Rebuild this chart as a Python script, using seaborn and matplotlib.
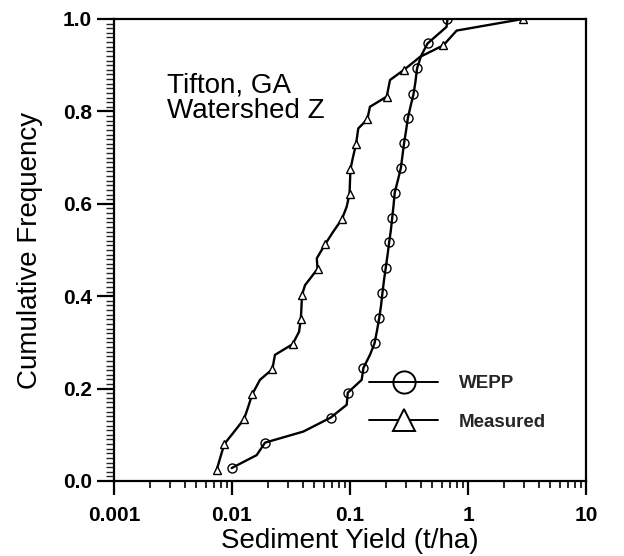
import matplotlib
matplotlib.use("Agg")
import matplotlib.pyplot as plt
from matplotlib.lines import Line2D
from matplotlib.ticker import FixedLocator, LogLocator, MultipleLocator, NullFormatter
import seaborn as sns
import pandas as pd

# ---- data ----
meas_x = [0.00741, 0.00807, 0.00861, 0.0113, 0.01265, 0.01374, 0.01486, 0.01726, 0.02198, 0.02312,
          0.0326, 0.0370, 0.0383, 0.0388, 0.0392, 0.0416, 0.0531, 0.0523, 0.0614, 0.0718,
          0.0855, 0.0938, 0.0991, 0.1000, 0.1009, 0.106, 0.1125, 0.1175, 0.1403, 0.1476,
          0.2047, 0.2183, 0.2871, 0.392, 0.618, 0.802, 2.91]
meas_y = [0.024, 0.056, 0.080, 0.118, 0.134, 0.161, 0.188, 0.219, 0.242, 0.273,
          0.296, 0.323, 0.350, 0.377, 0.403, 0.424, 0.459, 0.482, 0.512, 0.539,
          0.567, 0.594, 0.622, 0.649, 0.675, 0.701, 0.729, 0.763, 0.783, 0.810,
          0.832, 0.868, 0.890, 0.918, 0.943, 0.975, 1.0]
wepp_x = [0.00993, 0.01618, 0.01905, 0.0402, 0.0684, 0.0938, 0.0957, 0.1256, 0.130, 0.1476,
          0.1614, 0.1695, 0.177, 0.1833, 0.1883, 0.194, 0.201, 0.208, 0.2148, 0.222,
          0.228, 0.234, 0.2393, 0.255, 0.270, 0.2786, 0.287, 0.2985, 0.309, 0.326,
          0.345, 0.359, 0.370, 0.400, 0.454, 0.658, 0.670]
wepp_y = [0.028, 0.056, 0.083, 0.107, 0.137, 0.165, 0.191, 0.219, 0.245, 0.273,
          0.298, 0.326, 0.353, 0.380, 0.407, 0.434, 0.462, 0.489, 0.517, 0.543,
          0.570, 0.597, 0.624, 0.652, 0.678, 0.705, 0.731, 0.758, 0.785, 0.811,
          0.837, 0.865, 0.893, 0.920, 0.947, 0.983, 1.0]

x_ticks = [0.001, 0.01, 0.1, 1, 10]
x_tick_labels = ["0.001", "0.01", "0.1", "1", "10"]
y_ticks = [0.0, 0.2, 0.4, 0.6, 0.8, 1.0]
y_tick_labels = ["0.0", "0.2", "0.4", "0.6", "0.8", "1.0"]
series_names = ["WEPP", "Measured"]

sns.set_theme(style="ticks")
plt.rcParams["font.family"] = ["Liberation Sans", "DejaVu Sans"]

fig = plt.figure(figsize=(6.24, 5.56), dpi=100)
ax = fig.add_axes([114 / 624, 75 / 556, 472 / 624, 462 / 556])

df_w = pd.DataFrame({"x": wepp_x, "y": wepp_y})
df_m = pd.DataFrame({"x": meas_x, "y": meas_y})

sns.lineplot(data=df_m, x="x", y="y", sort=False, estimator=None, ax=ax,
             color="black", lw=1.7, marker="^", markevery=2, ms=5.5,
             mfc="white", mec="black", mew=1.0)
sns.lineplot(data=df_w, x="x", y="y", sort=False, estimator=None, ax=ax,
             color="black", lw=1.7, marker="o", markevery=2, ms=6.5,
             mfc="none", mec="black", mew=1.0)

ax.set_xscale("log")
ax.set_xlim(0.001, 10)
ax.set_ylim(0, 1.0)

ax.xaxis.set_major_locator(FixedLocator(x_ticks))
ax.set_xticklabels(x_tick_labels)
ax.xaxis.set_minor_locator(LogLocator(base=10, subs=[2, 3, 4, 5, 6, 7, 8, 9]))
ax.xaxis.set_minor_formatter(NullFormatter())
ax.set_yticks(y_ticks)
ax.set_yticklabels(y_tick_labels)
ax.yaxis.set_minor_locator(MultipleLocator(0.01))

for s in ax.spines.values():
    s.set_linewidth(1.6)
    s.set_color("black")

ax.tick_params(axis="x", which="major", direction="out", length=10, width=1.6,
               pad=8, labelsize=15, colors="black")
ax.tick_params(axis="x", which="minor", direction="out", length=5, width=1.4)
ax.tick_params(axis="y", which="major", direction="out", length=12, width=1.6,
               pad=4, labelsize=15, colors="black")
ax.tick_params(axis="y", which="minor", direction="out", length=5.5, width=1.0)
for lab in ax.get_xticklabels() + ax.get_yticklabels():
    lab.set_fontweight("bold")

ax.set_xlabel("Sediment Yield (t/ha)", fontsize=20, color="black", labelpad=2)
ax.set_ylabel("Cumulative Frequency", fontsize=20, color="black", labelpad=14)

ax.text(0.112, 0.885, "Tifton, GA\nWatershed Z", transform=ax.transAxes,
        fontsize=20, ha="left", va="top", linespacing=1.0, color="black")

handles = [
    Line2D([], [], color="black", lw=1.4, marker="o", ms=16, mfc="none", mec="black", mew=1.4),
    Line2D([], [], color="black", lw=1.4, marker="^", ms=16, mfc="white", mec="black", mew=1.4),
]
ax.legend(handles, series_names, loc="upper left", bbox_to_anchor=(0.52, 0.249),
          frameon=False, handlelength=3.7, handletextpad=1.1, labelspacing=1.12,
          borderpad=0, prop={"weight": "bold", "size": 13.5})

fig.savefig("out.png", dpi=100)
